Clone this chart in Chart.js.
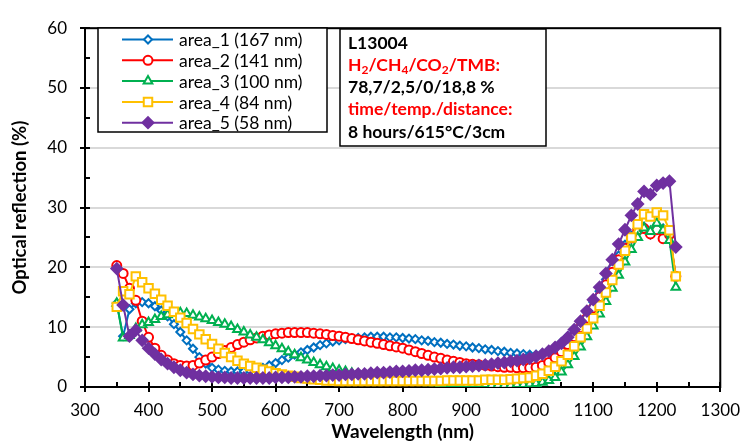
<!DOCTYPE html>
<html>
<head>
<meta charset="utf-8">
<script src="https://cdn.jsdelivr.net/npm/chart.js@4.4.0/dist/chart.umd.min.js"></script>
<style>
  html, body { margin: 0; padding: 0; background: #fff; }
  #wrap { width: 753px; height: 443px; }
</style>
</head>
<body>
<div id="wrap"><canvas id="reflChart" width="753" height="443"></canvas></div>
<script>
const wavelengths = [350,360,370,380,390,400,410,420,430,440,
  450,460,470,480,490,500,510,520,530,540,
  550,560,570,580,590,600,610,620,630,640,
  650,660,670,680,690,700,710,720,730,740,
  750,760,770,780,790,800,810,820,830,840,
  850,860,870,880,890,900,910,920,930,940,
  950,960,970,980,990,1000,1010,1020,1030,1040,
  1050,1060,1070,1080,1090,1100,1110,1120,1130,1140,
  1150,1160,1170,1180,1190,1200,1210,1220,1230];

const area1 = [14.0, 8.5, 13.0, 14.0, 14.2, 14.0, 13.5, 12.8, 11.8, 10.5,
  9.2, 7.8, 6.4, 5.0, 3.9, 3.2, 2.9, 2.7, 2.6, 2.6,
  2.6, 2.7, 2.9, 3.2, 3.6, 4.0, 4.5, 4.9, 5.4, 5.8,
  6.2, 6.6, 7.0, 7.3, 7.6, 7.8, 8.0, 8.1, 8.2, 8.3,
  8.4, 8.4, 8.4, 8.3, 8.3, 8.2, 8.1, 8.0, 7.8, 7.7,
  7.5, 7.4, 7.2, 7.1, 6.9, 6.8, 6.6, 6.5, 6.3, 6.2,
  6.0, 5.9, 5.7, 5.6, 5.5, 5.4, 5.4, 5.6, 6.0, 6.7,
  7.5, 8.5, 9.7, 11.0, 12.5, 14.2, 16.0, 18.0, 20.0, 22.0,
  23.8, 25.3, 26.5, 26.8, 25.5, 27.0, 26.5, 25.5, 18.5];

const area2 = [20.3, 19.0, 16.5, 14.5, 11.0, 8.3, 6.5, 5.3, 4.5, 3.9,
  3.6, 3.5, 3.6, 4.0, 4.5, 5.0, 5.6, 6.1, 6.6, 7.1,
  7.5, 7.9, 8.2, 8.5, 8.7, 8.9, 9.0, 9.1, 9.1, 9.1,
  9.1, 9.0, 8.9, 8.8, 8.6, 8.5, 8.3, 8.1, 7.9, 7.7,
  7.5, 7.3, 7.1, 6.9, 6.7, 6.5, 6.2, 5.9, 5.6, 5.3,
  5.0, 4.8, 4.5, 4.3, 4.1, 3.9, 3.8, 3.7, 3.6, 3.5,
  3.4, 3.3, 3.3, 3.2, 3.2, 3.2, 3.3, 3.6, 4.1, 4.9,
  5.9, 7.1, 8.4, 9.9, 11.5, 13.2, 15.1, 17.1, 19.2, 21.3,
  23.2, 24.9, 26.2, 26.5, 25.6, 26.3, 24.8, 25.5, 18.5];

const area3 = [14.0, 8.2, 8.6, 9.8, 10.4, 10.8, 11.3, 11.8, 12.1, 12.3,
  12.4, 12.3, 12.0, 11.7, 11.4, 11.1, 10.8, 10.5, 10.1, 9.6,
  9.2, 8.7, 8.3, 7.9, 7.4, 6.9, 6.4, 5.9, 5.4, 4.9,
  4.5, 4.1, 3.7, 3.4, 3.1, 2.8, 2.6, 2.3, 2.1, 1.9,
  1.7, 1.6, 1.4, 1.3, 1.2, 1.1, 1.0, 0.9, 0.8, 0.7,
  0.7, 0.6, 0.6, 0.5, 0.5, 0.4, 0.4, 0.4, 0.4, 0.3,
  0.3, 0.3, 0.3, 0.4, 0.4, 0.5, 0.6, 0.8, 1.1, 1.6,
  2.5, 3.7, 5.1, 6.7, 8.4, 10.2, 12.2, 14.3, 16.5, 18.7,
  20.9, 23.0, 25.0, 26.6, 26.0, 27.4, 26.2, 24.5, 16.7];

const area4 = [13.4, 16.0, 15.5, 18.5, 17.5, 16.5, 15.6, 14.6, 13.6, 12.6,
  11.6, 10.7, 9.7, 8.8, 8.0, 7.2, 6.4, 5.7, 5.0, 4.4,
  3.9, 3.5, 3.2, 2.9, 2.6, 2.3, 2.1, 1.9, 1.7, 1.5,
  1.4, 1.3, 1.2, 1.1, 1.1, 1.0, 1.0, 1.0, 1.0, 1.0,
  1.0, 1.0, 1.0, 1.0, 1.0, 1.0, 1.0, 1.0, 1.0, 1.0,
  1.0, 1.0, 1.1, 1.1, 1.1, 1.1, 1.1, 1.1, 1.2, 1.2,
  1.2, 1.2, 1.3, 1.4, 1.5, 1.6, 1.9, 2.2, 2.7, 3.4,
  4.3, 5.4, 6.8, 8.3, 9.8, 11.5, 13.6, 15.8, 17.9, 20.5,
  22.8, 25.0, 27.2, 28.9, 28.5, 29.2, 28.7, 26.2, 18.5];

const area5 = [19.8, 13.7, 8.5, 9.5, 7.8, 6.5, 5.5, 4.6, 3.9, 3.3,
  2.8, 2.4, 2.1, 1.9, 1.8, 1.7, 1.6, 1.6, 1.5, 1.5,
  1.5, 1.5, 1.5, 1.5, 1.5, 1.6, 1.6, 1.6, 1.7, 1.7,
  1.8, 1.8, 1.9, 1.9, 2.0, 2.0, 2.1, 2.1, 2.2, 2.2,
  2.3, 2.4, 2.4, 2.5, 2.6, 2.6, 2.7, 2.8, 2.8, 2.9,
  3.0, 3.1, 3.2, 3.3, 3.3, 3.4, 3.5, 3.6, 3.7, 3.8,
  4.0, 4.1, 4.3, 4.4, 4.6, 4.8, 5.1, 5.5, 6.0, 6.6,
  7.3, 8.3, 9.6, 11.0, 12.7, 14.6, 16.7, 19.0, 21.3, 23.9,
  26.3, 28.7, 30.6, 32.7, 32.2, 33.7, 34.1, 34.4, 23.4];

const seriesNames = ['area_1 (167 nm)', 'area_2 (141 nm)', 'area_3 (100 nm)', 'area_4 (84 nm)', 'area_5 (58 nm)'];
const seriesValues = [area1, area2, area3, area4, area5];
const seriesColors = ['#0070C0', '#FF0000', '#00B050', '#FFC000', '#7030A0'];
const seriesMarkers = ['rectRot', 'circle', 'triangle', 'rect', 'rectRot'];
const markerSizes = [4, 4.5, 5, 6, 5.5];
const markerFills = ['#ffffff', '#ffffff', '#ffffff', '#ffffff', '#7030A0'];

const FONT = 'Lato, "Open Sans", sans-serif';

const datasets = seriesValues.map((vals, i) => ({
  label: seriesNames[i],
  data: vals.map((v, k) => ({ x: wavelengths[k], y: v })),
  borderColor: seriesColors[i],
  backgroundColor: markerFills[i],
  borderWidth: 2,
  pointStyle: seriesMarkers[i],
  pointRadius: markerSizes[i],
  pointBorderWidth: 2,
  pointBackgroundColor: markerFills[i],
  pointBorderColor: seriesColors[i],
  order: 5 - i,
  tension: 0
}));

// frame + tick marks (drawn under the series)
const framePlugin = {
  id: 'frame',
  beforeDatasetsDraw(chart) {
    const { ctx, chartArea: a, scales } = chart;
    ctx.save();
    ctx.strokeStyle = '#000';
    ctx.lineWidth = 2;
    ctx.strokeRect(a.left, a.top, a.right - a.left, a.bottom - a.top);
    ctx.beginPath();
    for (let v = 0; v <= 60; v += 5) {
      const y = Math.round(scales.y.getPixelForValue(v));
      const major = v % 10 === 0;
      ctx.moveTo(a.left - (major ? 5 : 0), y);
      ctx.lineTo(a.left + 5, y);
    }
    for (let w = 300; w <= 1300; w += 50) {
      const x = Math.round(scales.x.getPixelForValue(w));
      const major = w % 100 === 0;
      ctx.moveTo(x, a.bottom + (major ? 5 : 0));
      ctx.lineTo(x, a.bottom - 5);
    }
    ctx.stroke();
    ctx.restore();
  }
};

// legend box and the sample info box
const boxesPlugin = {
  id: 'boxes',
  afterDraw(chart) {
    const ctx = chart.ctx;
    ctx.save();
    // legend
    ctx.fillStyle = '#fff';
    ctx.fillRect(98, 28, 229, 104);
    ctx.strokeStyle = '#000';
    ctx.lineWidth = 1.5;
    ctx.strokeRect(98, 28, 229, 104);
    chart.data.datasets.forEach((ds, i) => {
      const y = 39.5 + i * 20.8;
      ctx.strokeStyle = ds.borderColor;
      ctx.lineWidth = 2;
      ctx.beginPath();
      ctx.moveTo(122, y);
      ctx.lineTo(173, y);
      ctx.stroke();
      ctx.fillStyle = ds.pointBackgroundColor;
      Chart.helpers.drawPoint(ctx, {
        pointStyle: ds.pointStyle, radius: ds.pointRadius, borderWidth: 2, rotation: 0
      }, 148, y);
      ctx.fillStyle = '#000';
      ctx.font = '17.5px ' + FONT;
      ctx.textBaseline = 'middle';
      ctx.textAlign = 'left';
      ctx.fillText(ds.label, 179, y + 1);
    });

    // info box
    ctx.fillStyle = '#fff';
    ctx.fillRect(340, 29, 206, 117);
    ctx.strokeStyle = '#000';
    ctx.lineWidth = 1.5;
    ctx.strokeRect(340, 29, 206, 117);
    const lines = [
      { y: 43, color: '#000', parts: [['L13004', 0]] },
      { y: 65, color: '#FF0000', parts: [['H', 0], ['2', 1], ['/CH', 0], ['4', 1], ['/CO', 0], ['2', 1], ['/TMB:', 0]] },
      { y: 87.5, color: '#000', parts: [['78,7/2,5/0/18,8 %', 0]] },
      { y: 109.5, color: '#FF0000', parts: [['time/temp./distance:', 0]] },
      { y: 132.5, color: '#000', parts: [['8 hours/615\u00b0C/3cm', 0]] }
    ];
    ctx.textBaseline = 'middle';
    lines.forEach(line => {
      let x = 348;
      ctx.fillStyle = line.color;
      line.parts.forEach(([t, sub]) => {
        ctx.font = (sub ? 'bold 12px ' : 'bold 17.5px ') + FONT;
        ctx.fillText(t, x, line.y + (sub ? 5 : 0));
        x += ctx.measureText(t).width;
      });
    });
    ctx.restore();
  }
};

new Chart(document.getElementById('reflChart'), {
  type: 'line',
  data: { datasets: datasets },
  options: {
    responsive: false,
    animation: false,
    layout: { padding: { top: 20, right: 20, left: 0, bottom: 0 } },
    plugins: { legend: { display: false }, tooltip: { enabled: false } },
    scales: {
      x: {
        type: 'linear',
        min: 300,
        max: 1300,
        grid: { display: false, drawTicks: false },
        border: { display: false },
        ticks: {
          stepSize: 100, color: '#000', padding: 13, font: { family: FONT, size: 17 },
          callback: v => String(v)
        },
        title: {
          display: true, text: 'Wavelength (nm)', color: '#000',
          font: { family: FONT, size: 19, weight: 'bold' }, padding: { top: 0, bottom: 0 }
        },
        afterFit(scale) { scale.height = 56; }
      },
      y: {
        min: 0,
        max: 60,
        grid: { color: '#d9d9d9', lineWidth: 2, drawTicks: false },
        border: { display: false },
        ticks: { stepSize: 10, color: '#000', padding: 18, font: { family: FONT, size: 17 } },
        title: {
          display: true, text: 'Optical reflection (%)', color: '#000',
          font: { family: FONT, size: 18.5, weight: 'bold' }, padding: { top: 9, bottom: 0 }
        },
        afterFit(scale) { scale.width = 85; }
      }
    }
  },
  plugins: [framePlugin, boxesPlugin]
});
</script>
</body>
</html>
